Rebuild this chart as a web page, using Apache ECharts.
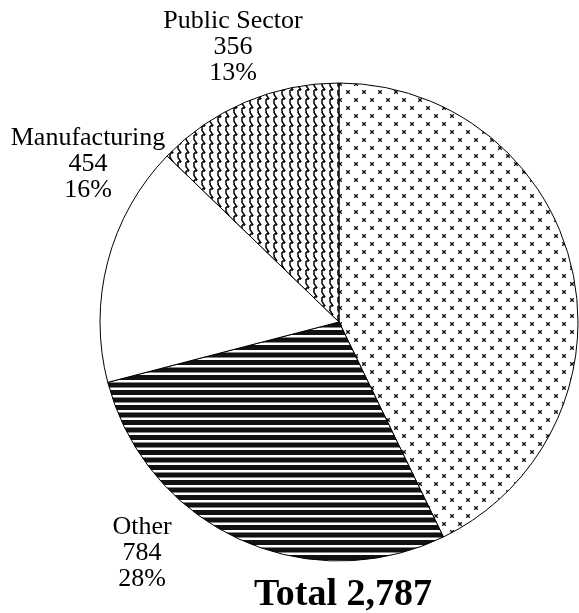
<!DOCTYPE html>
<html>
<head>
<meta charset="utf-8">
<script src="https://cdn.jsdelivr.net/npm/echarts@6/dist/echarts.min.js"></script>
<style>
  html, body { margin: 0; padding: 0; background: #fff; }
  #chart { width: 579px; height: 613px; }
</style>
</head>
<body>
<div id="chart"></div>
<script>
// ---- data ----
const categories = ['Unlabelled', 'Other', 'Manufacturing', 'Public Sector'];
const values = [1193, 784, 454, 356];
const showLabel = [false, true, true, true];

// ---- pattern fills (styles) ----
function makeCanvas(w, h) {
  const c = document.createElement('canvas');
  c.width = w; c.height = h;
  const g = c.getContext('2d');
  g.fillStyle = '#fff';
  g.fillRect(0, 0, w, h);
  return [c, g];
}
function crossPattern() {
  const [c, g] = makeCanvas(16, 16);
  g.strokeStyle = '#111';
  g.lineWidth = 1.3;
  [[4, 4], [12, 12]].forEach(([x, y]) => {
    g.beginPath();
    g.moveTo(x - 1.8, y - 1.8); g.lineTo(x + 1.8, y + 1.8);
    g.moveTo(x + 1.8, y - 1.8); g.lineTo(x - 1.8, y + 1.8);
    g.stroke();
  });
  return c;
}
function stripePattern() {
  const [c, g] = makeCanvas(8, 15);
  g.fillStyle = '#111';
  g.fillRect(0, 0, 8, 5);
  g.fillRect(0, 7.5, 8, 5);
  return c;
}
function zigzagPattern() {
  const [c, g] = makeCanvas(8, 9);
  g.strokeStyle = '#000';
  g.lineWidth = 1.5;
  g.lineJoin = 'miter';
  g.beginPath();
  g.moveTo(5, -4.5); g.lineTo(2, 0);
  g.moveTo(5, 0); g.lineTo(2, 0); g.lineTo(2, 4.5); g.lineTo(5, 9); g.lineTo(2, 9);
  g.stroke();
  return c;
}
const fills = [
  { image: crossPattern(), repeat: 'repeat' },
  { image: stripePattern(), repeat: 'repeat' },
  '#ffffff',
  { image: zigzagPattern(), repeat: 'repeat' }
];
// label anchor positions (layout)
const labelPos = [null, [142, 553], [88, 164], [233, 47]];

const total = values.reduce((a, b) => a + b, 0);

const chart = echarts.init(document.getElementById('chart'), null, { renderer: 'canvas' });
chart.setOption({
  animation: false,
  backgroundColor: '#fff',
  title: {
    text: 'Total ' + total.toLocaleString('en-US'),
    left: 254,
    top: 576,
    padding: 0,
    textStyle: {
      fontFamily: 'Liberation Serif',
      fontWeight: 'bold',
      fontSize: 38,
      lineHeight: 38,
      color: '#000'
    }
  },
  series: [{
    type: 'pie',
    center: [339, 322],
    radius: 239,
    startAngle: 90,
    clockwise: true,
    avoidLabelOverlap: false,
    silent: true,
    itemStyle: { borderColor: '#000', borderWidth: 1 },
    label: {
      position: 'outside',
      overflow: 'none',
      bleedMargin: 0,
      fontFamily: 'Liberation Serif',
      fontSize: 26,
      lineHeight: 26,
      color: '#000',
      formatter: p => p.name + '\n' + p.value + '\n' + Math.round(p.percent) + '%'
    },
    labelLine: { show: false },
    labelLayout: function (params) {
      const p = labelPos[params.dataIndex];
      if (!p) return {};
      return { x: p[0], y: p[1], align: 'center', verticalAlign: 'middle' };
    },
    data: categories.map((name, i) => ({
      name: name,
      value: values[i],
      itemStyle: { color: fills[i] },
      label: { show: showLabel[i] }
    }))
  }]
});
</script>
</body>
</html>
